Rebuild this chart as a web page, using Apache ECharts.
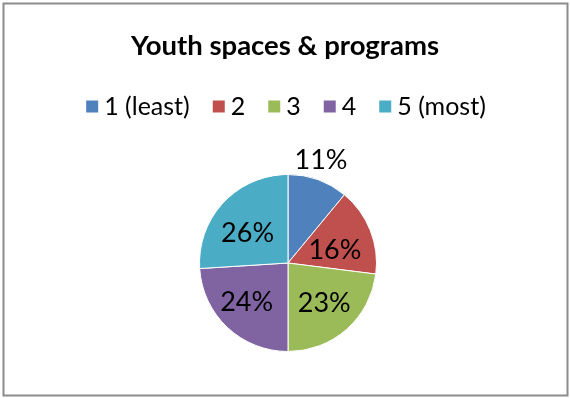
<!DOCTYPE html>
<html>
<head>
<meta charset="utf-8">
<script src="https://cdn.jsdelivr.net/npm/echarts@6/dist/echarts.min.js"></script>
<style>
  html, body { margin: 0; padding: 0; background: #fff; }
  #chart { width: 570px; height: 398px; }
</style>
</head>
<body>
<div id="chart"></div>
<script>
// Ratings share, 1 = least to 5 = most
const categories = ['1 (least)', '2', '3', '4', '5 (most)'];
const shares = [11, 16, 23, 24, 26];
const colors = ['#4F81BD', '#C0504D', '#9BBB59', '#8064A2', '#4BACC6'];
// nudges for each slice's percentage label, in px
const labelOffsets = [[17, -58], [3, 5], [5, 5], [-9, 5], [-6, 3]];

const FONT = 'Lato, "Liberation Sans", sans-serif';

const chart = echarts.init(document.getElementById('chart'), null, { renderer: 'canvas' });

chart.setOption({
  animation: false,
  backgroundColor: '#ffffff',
  color: colors,
  title: {
    text: 'Youth spaces & programs',
    left: 'center',
    top: 27,
    textStyle: { fontFamily: FONT, fontWeight: 'bold', fontSize: 27.5, color: '#000' }
  },
  legend: {
    data: categories,
    left: 'center',
    top: 89,
    itemWidth: 14,
    itemHeight: 14,
    itemGap: 21,
    icon: 'rect',
    textStyle: { fontFamily: FONT, fontSize: 25, color: '#000', padding: [0, 0, 0, 0] }
  },
  graphic: [{
    type: 'rect',
    shape: { x: 3.5, y: 3.5, width: 564, height: 392 },
    style: { fill: 'none', stroke: '#8c8c8c', lineWidth: 2 },
    silent: true
  }],
  series: [{
    type: 'pie',
    center: [288, 263],
    radius: 88.5,
    startAngle: 90,
    clockwise: true,
    avoidLabelOverlap: false,
    itemStyle: { borderColor: '#ffffff', borderWidth: 1 },
    label: {
      show: true,
      position: 'inside',
      formatter: '{c}%',
      fontFamily: FONT,
      fontSize: 27,
      color: '#000'
    },
    labelLine: { show: false },
    emphasis: { disabled: true },
    data: categories.map((name, i) => ({
      name: name,
      value: shares[i],
      label: { offset: labelOffsets[i] }
    }))
  }]
});
</script>
</body>
</html>
